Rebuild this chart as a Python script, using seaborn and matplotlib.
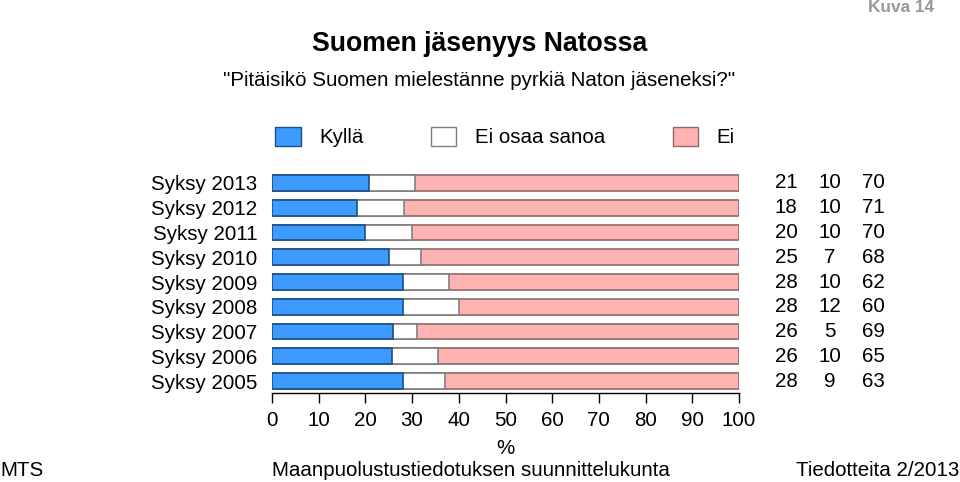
import numpy as np
import pandas as pd
import seaborn as sns
import matplotlib.pyplot as plt
from matplotlib.patches import Patch
from matplotlib.transforms import blended_transform_factory

years = ['Syksy 2013', 'Syksy 2012', 'Syksy 2011', 'Syksy 2010', 'Syksy 2009',
         'Syksy 2008', 'Syksy 2007', 'Syksy 2006', 'Syksy 2005']
kylla = [21, 18, 20, 25, 28, 28, 26, 26, 28]
eos = [10, 10, 10, 7, 10, 12, 5, 10, 9]
ei = [70, 71, 70, 68, 62, 60, 69, 65, 63]

sns.set_style('white')
plt.rcParams['font.family'] = ['Liberation Sans', 'DejaVu Sans']
plt.rcParams['text.color'] = 'black'
plt.rcParams['xtick.color'] = 'black'
plt.rcParams['ytick.color'] = 'black'
plt.rcParams['axes.labelcolor'] = 'black'

fs = 14.8

tot = np.array(kylla) + np.array(eos) + np.array(ei)
data = pd.DataFrame({
    'vuosi': years,
    'kylla': np.array(kylla) / tot * 100,
    'kylla_eos': (np.array(kylla) + np.array(eos)) / tot * 100,
    'kaikki': np.full(len(years), 100.0),
})

blue, blue_edge = '#3d9bff', '#1d4f86'
white, white_edge = '#ffffff', '#7f7f7f'
pink, pink_edge = '#ffb3b3', '#8a6a6a'

fig = plt.figure(figsize=(9.6, 4.82), dpi=100)
ax = fig.add_axes([272 / 960, 1 - 393.4 / 482, 467 / 960, 222.8 / 482])

w = 0.63
sns.barplot(data=data, y='vuosi', x='kaikki', color=pink, edgecolor=pink_edge,
            linewidth=1.2, width=w, saturation=1, ax=ax)
sns.barplot(data=data, y='vuosi', x='kylla_eos', color=white, edgecolor=white_edge,
            linewidth=1.2, width=w, saturation=1, ax=ax)
sns.barplot(data=data, y='vuosi', x='kylla', color=blue, edgecolor=blue_edge,
            linewidth=1.2, width=w, saturation=1, ax=ax)

ax.set_xlim(0, 100)
ax.set_ylim(len(years) - 0.5, -0.5)
ax.set_xticks(range(0, 101, 10))
ax.set_xlabel('%', fontsize=fs, labelpad=6)
ax.set_ylabel('')
for s in ['top', 'right', 'left']:
    ax.spines[s].set_visible(False)
ax.spines['bottom'].set_color('black')
ax.spines['bottom'].set_linewidth(1.0)
ax.tick_params(axis='x', bottom=True, length=7, width=1.0, color='black',
               labelsize=fs, pad=6, direction='out')
ax.tick_params(axis='y', left=False, labelsize=fs, pad=7)

# value columns on the right
tr = blended_transform_factory(fig.transFigure, ax.transData)
for i in range(len(years)):
    for xc, v in zip([786, 830, 873], [kylla[i], eos[i], ei[i]]):
        ax.text(xc / 960, i, str(v), transform=tr, ha='center', va='center',
                fontsize=fs)

fig.text(480 / 960, 1 - 44 / 482, 'Suomen jäsenyys Natossa', ha='center',
         va='center', fontsize=19.2, fontweight='bold')
fig.text(479 / 960, 1 - 80 / 482,
         '"Pitäisikö Suomen mielestänne pyrkiä Naton jäseneksi?"',
         ha='center', va='center', fontsize=fs)
fig.text(934 / 960, 1 - 7 / 482, 'Kuva 14', ha='right', va='center',
         fontsize=12.4, fontweight='bold', color='#999999')

handles = [Patch(facecolor=blue, edgecolor=blue_edge, label='Kyllä'),
           Patch(facecolor=white, edgecolor=white_edge, label='Ei osaa sanoa'),
           Patch(facecolor=pink, edgecolor=pink_edge, label='Ei')]
fig.legend(handles=handles, loc='center', bbox_to_anchor=(505 / 960, 1 - 137 / 482),
           ncol=3, frameon=False, fontsize=fs, handlelength=1.22,
           handleheight=1.1, handletextpad=0.9, columnspacing=3.3,
           borderpad=0, borderaxespad=0)

fig.text(0.0, 1 - 470 / 482, 'MTS', ha='left', va='center', fontsize=fs)
fig.text(471 / 960, 1 - 470 / 482, 'Maanpuolustustiedotuksen suunnittelukunta',
         ha='center', va='center', fontsize=fs)
fig.text(959 / 960, 1 - 470 / 482, 'Tiedotteita 2/2013', ha='right',
         va='center', fontsize=fs)

fig.savefig('out.png', dpi=100)
